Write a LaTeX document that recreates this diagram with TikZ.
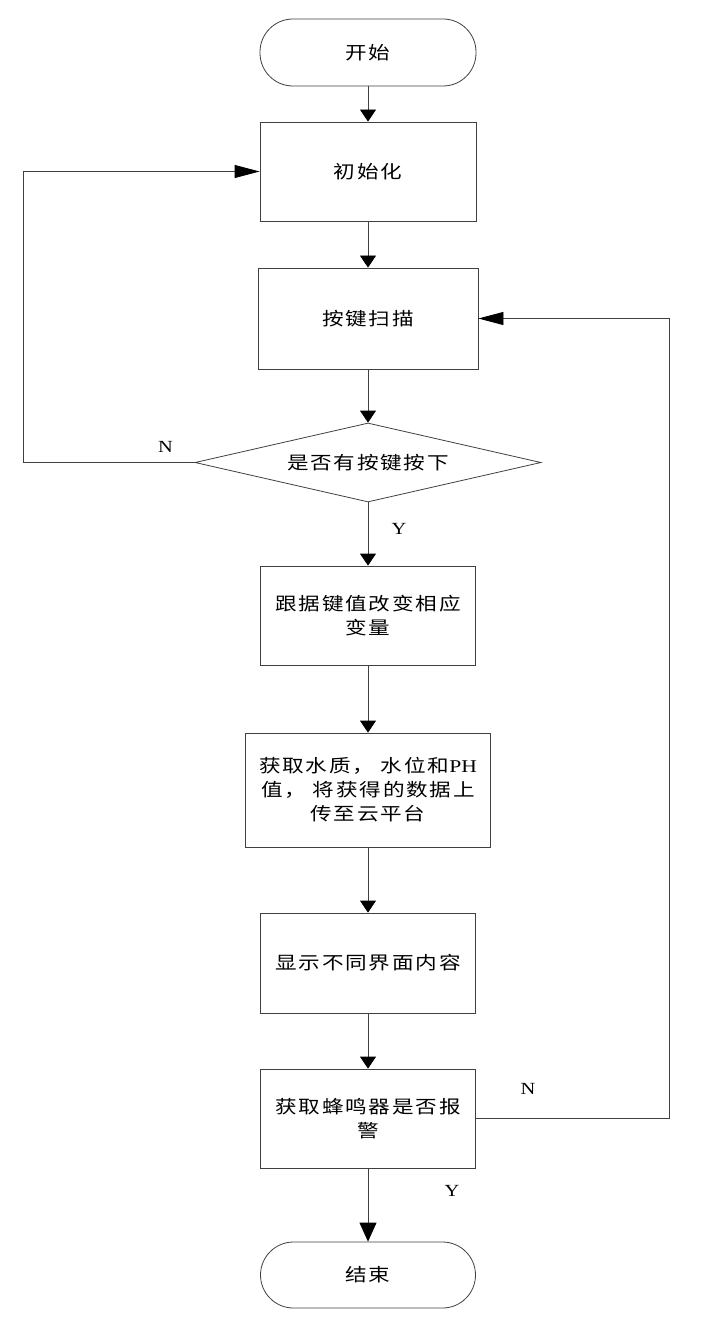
\documentclass[tikz,border=0pt]{standalone}
\usepackage{fontspec}
\setmainfont{Liberation Serif}[FakeStretch=1.2]
\newfontfamily\cjk{Noto Sans CJK SC}[FakeStretch=1.2,LetterSpace=10]
\usetikzlibrary{shapes.geometric, positioning, arrows.meta}

\tikzset{
  base/.style={draw=black!75, line width=0.8pt, font=\cjk\fontsize{18pt}{24pt}\selectfont, align=center, inner sep=0pt},
  term/.style={base, rounded corners=33pt, minimum width=216pt, minimum height=67pt},
  proc/.style={base, rectangle, minimum width=216pt, minimum height=99pt},
  decide/.style={base, diamond, aspect=4.4, minimum width=346pt, minimum height=79pt},
  lbl/.style={font=\fontsize{17pt}{20pt}\selectfont, inner sep=0pt},
  line/.style={draw=black!75, line width=0.8pt},
  arr/.style={line, -{Triangle[length=12pt, width=16pt, color=black]}},
  arrh/.style={line, -{Triangle[length=25pt, width=13pt, color=black]}},
}

\begin{document}
\begin{tikzpicture}[x=1pt, y=1pt, on grid]
    \useasboundingbox (0,0) rectangle (717,-1324);

    % Steps
    \node[term] (start) at (368,-52.5) {开始};
    \node[proc] (init) [below=119pt of start] {初始化};
    \node[proc, minimum width=220pt, minimum height=101pt] (scan) [below=147pt of init] {按键扫描};
    \node[decide] (key) [below=144pt of scan] {是否有按键按下};
    \node[proc, minimum width=215pt] (upd) [below=153pt of key] {跟据键值改变相应\\变量};
    \node[proc, minimum width=245pt, minimum height=114pt] (data) [below=174.5pt of upd] {获取水质， 水位和{\rmfamily PH}\\值， 将获得的数据上\\传至云平台};
    \node[proc, minimum width=215pt, minimum height=100pt] (show) [below=173pt of data] {显示不同界面内容};
    \node[proc, minimum width=215pt] (alarm) [below=155.5pt of show] {获取蜂鸣器是否报\\警};
    \node[term, minimum width=215pt, minimum height=66pt] (stop) [below=156.5pt of alarm] {结束};

    % Transitions
    \path[arr]
        (start) edge (init)
        (init) edge (scan)
        (scan) edge (key)
        (key) edge node[lbl, pos=0.42, xshift=31pt] {Y} (upd)
        (upd) edge (data)
        (data) edge (show)
        (show) edge (alarm)
        (alarm) edge [-{Triangle[length=19pt, width=17pt, color=black]}] node[lbl, pos=0.31, xshift=84pt] {Y} (stop);

    % Loops back
    \draw[arrh] (key.west) -- ++(-171,0) node[lbl, pos=0.17, yshift=16pt] {N} |- (init.west);
    \draw[arrh] (alarm.east) -- ++(193,0) node[lbl, pos=0.27, yshift=29.5pt] {N} |- (scan.east);
\end{tikzpicture}
\end{document}
